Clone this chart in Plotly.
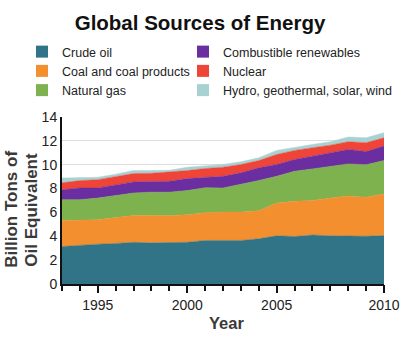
import plotly.graph_objects as go

years = list(range(1993, 2012))
crude_oil = [3.14, 3.25, 3.34, 3.40, 3.50, 3.45, 3.45, 3.50, 3.65, 3.65, 3.65, 3.79, 4.04, 3.98, 4.10, 4.04, 4.00, 4.00, 4.06]
coal = [2.19, 2.10, 2.04, 2.18, 2.25, 2.30, 2.27, 2.30, 2.33, 2.38, 2.38, 2.35, 2.75, 2.95, 2.91, 3.17, 3.38, 3.28, 3.49]
natural_gas = [1.74, 1.72, 1.82, 1.82, 1.88, 1.95, 1.98, 2.03, 2.09, 2.02, 2.30, 2.53, 2.24, 2.52, 2.64, 2.66, 2.69, 2.72, 2.80]
combustible = [0.83, 0.98, 0.85, 0.93, 0.93, 0.90, 0.91, 1.01, 0.87, 0.98, 0.99, 1.07, 0.99, 0.99, 1.07, 1.13, 1.21, 1.10, 1.21]
nuclear = [0.58, 0.62, 0.70, 0.70, 0.70, 0.68, 0.76, 0.67, 0.74, 0.76, 0.70, 0.61, 0.84, 0.76, 0.70, 0.64, 0.65, 0.75, 0.70]
hydro = [0.40, 0.25, 0.20, 0.17, 0.25, 0.23, 0.17, 0.28, 0.24, 0.23, 0.22, 0.23, 0.34, 0.27, 0.28, 0.29, 0.39, 0.41, 0.43]

names = ["Crude oil", "Coal and coal products", "Natural gas",
         "Combustible renewables", "Nuclear", "Hydro, geothermal, solar, wind"]
series = [crude_oil, coal, natural_gas, combustible, nuclear, hydro]
colors = ["#327487", "#F38F2E", "#7DB24E", "#6A2EA0", "#EE4538", "#A8D2D2"]
legend_ids = ["legend", "legend", "legend", "legend2", "legend2", "legend2"]

major_years = [1995, 2000, 2005, 2011]
major_text = ["1995", "2000", "2005", "2010"]
y_title_lines = ["Billion Tons of", "Oil Equivalent"]

FONT = "Liberation Sans, Arial, sans-serif"

fig = go.Figure()
for name, vals, col in zip(names, series, colors):
    fig.add_trace(go.Scatter(
        x=years, y=vals, stackgroup="one", mode="lines",
        line=dict(width=0.5, color=col), fillcolor=col,
        name=name, showlegend=False, hoverinfo="skip"))

for name, col, lg in zip(names, colors, legend_ids):
    fig.add_trace(go.Scatter(
        x=[None], y=[None], mode="markers",
        marker=dict(symbol="square", size=12, color=col),
        name=name, legend=lg, showlegend=True))

# carrier trace so the overlaid labelled axis is drawn
fig.add_trace(go.Scatter(x=[None], y=[None], xaxis="x2", yaxis="y",
                         mode="markers", showlegend=False, hoverinfo="skip"))

legend_common = dict(
    font=dict(family=FONT, size=12.5, color="#222"),
    bgcolor="rgba(0,0,0,0)", borderwidth=0,
    xref="container", yref="container",
    xanchor="left", yanchor="top", orientation="v",
    tracegroupgap=0, traceorder="normal",
)

annotations = []
for i, line in enumerate(y_title_lines):
    annotations.append(dict(
        text="<b>" + line + "</b>", textangle=-90,
        xref="paper", yref="paper", x=(12 + 20 * i - 62) / 322, y=(284 - 210) / 166.3,
        xanchor="center", yanchor="middle", showarrow=False,
        font=dict(family=FONT, size=17, color="#3a3a3a")))
annotations.append(dict(
    text="<b>Year</b>", xref="paper", yref="paper",
    x=(226 - 62) / 322, y=(284 - 323) / 166.3,
    xanchor="center", yanchor="middle", showarrow=False,
    font=dict(family=FONT, size=16.5, color="#3a3a3a")))

fig.update_layout(
    width=404, height=339,
    margin=dict(l=62, r=20, t=117, b=55, autoexpand=False),
    paper_bgcolor="white", plot_bgcolor="white",
    font=dict(family=FONT, color="#222"),
    title=dict(text="<b>Global Sources of Energy</b>",
               font=dict(family=FONT, size=20.5, color="#111"),
               x=200 / 404, xanchor="center", xref="container",
               y=1 - 23 / 339, yanchor="middle", yref="container"),
    legend=dict(x=22 / 404, y=1 - 37 / 339, **legend_common),
    legend2=dict(x=183 / 404, y=1 - 37 / 339, **legend_common),
    xaxis=dict(
        range=[1993, 2011], tickmode="array", tickvals=years,
        ticktext=[""] * len(years),
        ticks="outside", ticklen=5, tickwidth=1.5, tickcolor="#111",
        showline=True, linecolor="#111", linewidth=2,
        showgrid=False, zeroline=False, automargin=False,
    ),
    xaxis2=dict(
        overlaying="x", side="bottom", anchor="y",
        range=[1993, 2011], tickmode="array", tickvals=major_years, ticktext=major_text,
        ticks="outside", ticklen=8, tickwidth=1.5, tickcolor="#111",
        showline=False, showgrid=False, zeroline=False, automargin=False,
        tickfont=dict(family=FONT, size=14, color="#222"),
    ),
    yaxis=dict(
        range=[0, 14], tickmode="linear", tick0=0, dtick=2,
        showline=True, linecolor="#111", linewidth=2,
        showgrid=True, gridcolor="#DDDDDD", gridwidth=1, zeroline=False,
        ticks="", automargin=False,
        tickfont=dict(family=FONT, size=14, color="#222"),
    ),
    annotations=annotations,
)

fig.write_html("out.html")
